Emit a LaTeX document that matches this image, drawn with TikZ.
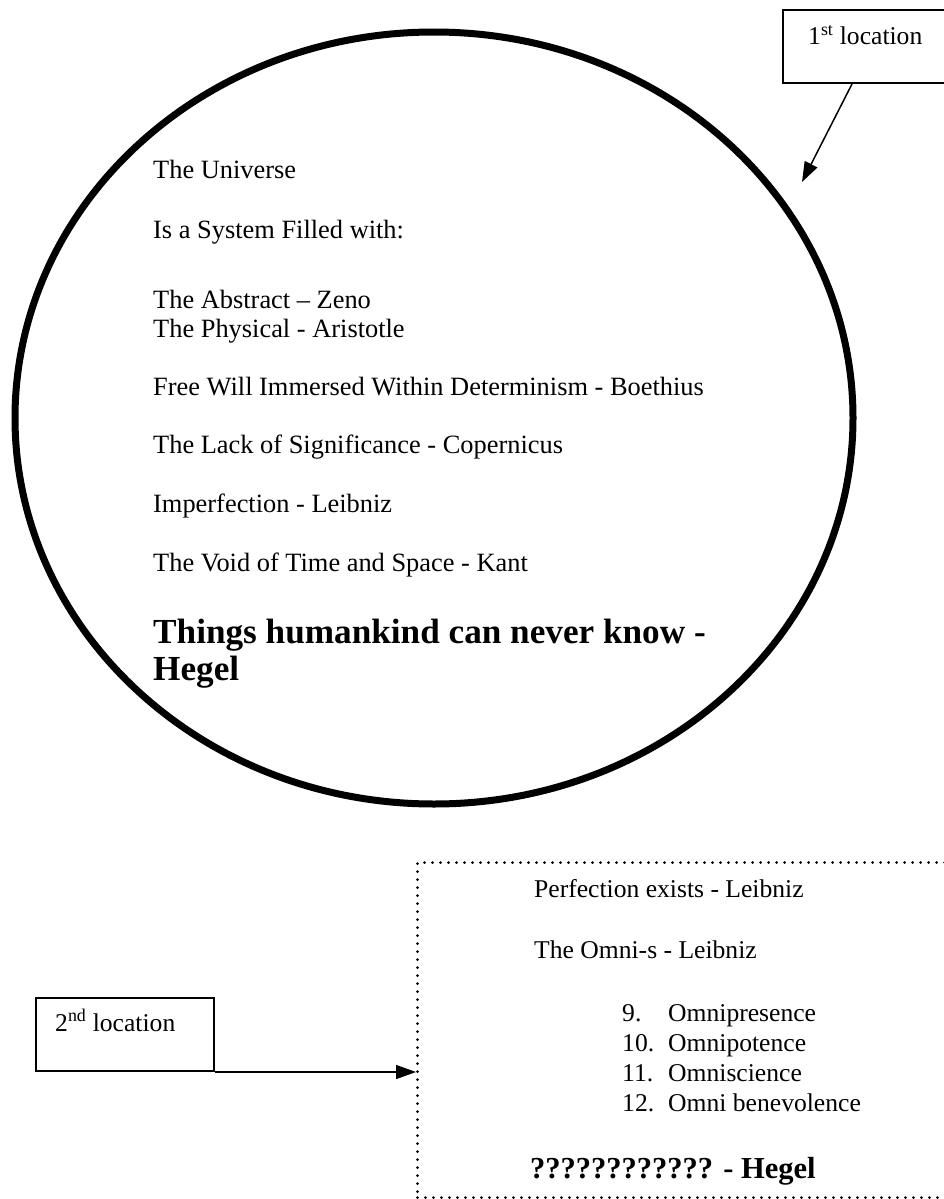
\documentclass[tikz,border=0pt]{standalone}
\usepackage{fontspec}
\setmainfont{Liberation Serif}
\usetikzlibrary{arrows.meta,shapes.geometric}
\begin{document}
\begin{tikzpicture}[x=1pt,y=-1pt,
  txt/.style={anchor=base west, inner sep=0pt, font=\fontsize{26.4}{30}\selectfont},
  boldtxt/.style={anchor=base west, inner sep=0pt, font=\fontsize{35.2}{40}\selectfont\bfseries},
  boxtxt/.style={anchor=base west, inner sep=0pt, font=\fontsize{25.6}{30}\selectfont},
  hegeltxt/.style={anchor=base west, inner sep=0pt, font=\fontsize{30.5}{35}\selectfont\bfseries},
  labelbox/.style={draw, line width=2pt, anchor=north west, inner sep=0pt},
  pointer/.style={line width=1.5pt, -{Triangle[length=20pt,width=14pt]}},
  dotbox/.style={draw, line width=3pt, dash pattern=on 0pt off 8pt, line cap=round,
                 anchor=north west, inner sep=0pt},
  ]
\useasboundingbox (0,0) rectangle (943,1199);
\fill[white] (0,0) rectangle (943,1199);

% the universe
\node[ellipse, draw, line width=7pt, minimum width=838pt, minimum height=772pt,
      inner sep=0pt] (universe) at (434,418) {};

\node[txt] (u1) at (153,178) {The Universe};
\node[txt] (u2) at (153,238) {Is a System Filled with:};
\node[txt] (u3) at (153,308) {The Abstract – Zeno};
\node[txt] (u4) at (153,337) {The Physical - Aristotle};
\node[txt] (u5) at (153,395) {Free Will Immersed Within Determinism - Boethius};
\node[txt] (u6) at (153,453) {The Lack of Significance - Copernicus};
\node[txt] (u7) at (153,512) {Imperfection - Leibniz};
\node[txt] (u8) at (153,571) {The Void of Time and Space - Kant};
\node[boldtxt] (u9) at (153,643) {Things humankind can never know -};
\node[boldtxt] (u10) at (153,680) {Hegel};

% first label
\node[labelbox, minimum width=172pt, minimum height=73pt] (loc1) at (782,9) {};
\node[boxtxt] (loc1txt) at (808,45) {1\textsuperscript{st} location};
\coordinate (tip1) at (802,182);
\draw[pointer] ([xshift=70pt]loc1.south west) -- (tip1);

% second location
\node[dotbox, minimum width=560pt, minimum height=335pt] (beyond) at (416,861) {};
\node[boxtxt] (b1) at (534,897) {Perfection exists - Leibniz};
\node[boxtxt] (b2) at (534,958) {The Omni-s - Leibniz};
\node[boxtxt] (n9) at (622,1021) {9.};
\node[boxtxt] (o9) at (668,1021) {Omnipresence};
\node[boxtxt] (n10) at (622,1051) {10.};
\node[boxtxt] (o10) at (668,1051) {Omnipotence};
\node[boxtxt] (n11) at (622,1081) {11.};
\node[boxtxt] (o11) at (668,1081) {Omniscience};
\node[boxtxt] (n12) at (622,1111) {12.};
\node[boxtxt] (o12) at (668,1111) {Omni benevolence};
\node[hegeltxt] (b3) at (530,1178) {???????????? - Hegel};

% second label
\node[labelbox, minimum width=178pt, minimum height=73pt] (loc2) at (35,997) {};
\node[boxtxt] (loc2txt) at (55,1031) {2\textsuperscript{nd} location};
\draw[pointer] (loc2.south east) -- (loc2.south east -| beyond.west);
\end{tikzpicture}
\end{document}
